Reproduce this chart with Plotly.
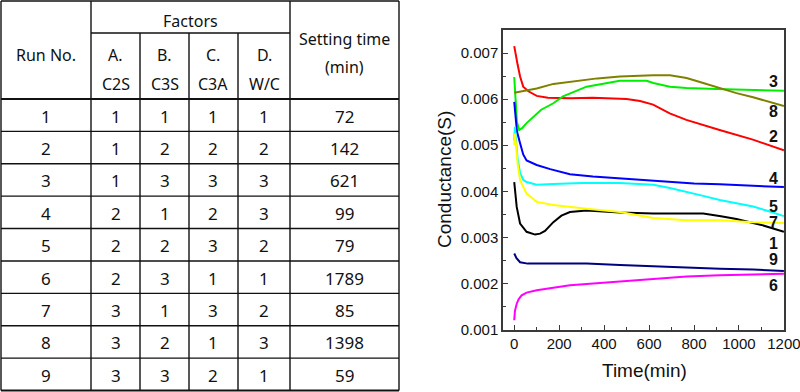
import plotly.graph_objects as go

W, H = 800, 392

# ---------------- table data ----------------
run_no = [1, 2, 3, 4, 5, 6, 7, 8, 9]
factor_A = [1, 1, 1, 2, 2, 2, 3, 3, 3]
factor_B = [1, 2, 3, 1, 2, 3, 1, 2, 3]
factor_C = [1, 2, 3, 2, 3, 1, 3, 1, 2]
factor_D = [1, 2, 3, 3, 2, 1, 2, 3, 1]
setting_time = [72, 142, 621, 99, 79, 1789, 85, 1398, 59]
factor_heads = [("A.", "C2S"), ("B.", "C3S"), ("C.", "C3A"), ("D.", "W/C")]

# ---------------- curve data (Time min, Conductance S) ----------------
t1 = [0, 5, 11, 26, 55, 93, 115, 137, 174, 210, 248, 322, 470, 619, 841, 920, 989, 1100, 1200]
c1 = [0.0042, 0.0039, 0.00366, 0.0033, 0.00312, 0.00306, 0.00308, 0.00314, 0.00333, 0.00347,
      0.00355, 0.00358, 0.00354, 0.00352, 0.00352, 0.00346, 0.0034, 0.00327, 0.00312]
t2 = [0, 5, 15, 26, 40, 63, 100, 150, 250, 350, 450, 500, 560, 618, 692, 766, 914, 1062, 1200]
c2 = [0.00715, 0.00700, 0.00675, 0.00649, 0.00627, 0.00617, 0.00607, 0.00603, 0.00602, 0.00603,
      0.00602, 0.00600, 0.00596, 0.00588, 0.00569, 0.00555, 0.00533, 0.00512, 0.00489]
t3 = [0, 5, 12, 22, 35, 55, 85, 120, 174, 217, 322, 396, 470, 589, 619, 693, 767, 900, 1050, 1200]
c3 = [0.00648, 0.0060, 0.0055, 0.00533, 0.00537, 0.00548, 0.00562, 0.00577, 0.00591, 0.00606,
      0.00627, 0.00634, 0.0064, 0.0064, 0.00635, 0.00627, 0.00624, 0.00622, 0.0062, 0.00618]
t4 = [0, 5, 12, 26, 40, 55, 100, 160, 248, 350, 470, 580, 693, 800, 915, 1050, 1200]
c4 = [0.00594, 0.0056, 0.0053, 0.00504, 0.0048, 0.00467, 0.00457, 0.00448, 0.00437, 0.00432,
      0.00428, 0.00424, 0.00419, 0.00417, 0.00415, 0.00412, 0.00409]
t5 = [0, 3, 8, 15, 26, 40, 55, 100, 174, 300, 470, 619, 693, 767, 841, 915, 989, 1063, 1137, 1200]
c5 = [0.0051, 0.0054, 0.0051, 0.0047, 0.0044, 0.00425, 0.0042, 0.00414, 0.00416, 0.00418,
      0.00418, 0.00414, 0.00407, 0.00399, 0.0039, 0.00381, 0.00374, 0.00367, 0.00356, 0.00346]
t6 = [0, 3, 11, 20, 33, 55, 100, 174, 248, 322, 470, 619, 767, 915, 1063, 1200]
c6 = [0.0012, 0.0014, 0.00156, 0.00166, 0.00174, 0.0018, 0.00185, 0.00191, 0.00196, 0.00199,
      0.00204, 0.0021, 0.00215, 0.00218, 0.00219, 0.00221]
t7 = [0, 3, 8, 15, 26, 55, 100, 174, 322, 470, 619, 767, 915, 1063, 1200]
c7 = [0.0050, 0.00525, 0.0050, 0.0046, 0.00424, 0.00395, 0.00377, 0.0037, 0.00362, 0.00355,
      0.00342, 0.00337, 0.00337, 0.00333, 0.00331]
t8 = [0, 50, 100, 174, 277, 370, 470, 560, 619, 693, 767, 841, 915, 989, 1063, 1200]
c8 = [0.00614, 0.00618, 0.00623, 0.00633, 0.0064, 0.00645, 0.00649, 0.00651, 0.00652, 0.00652,
      0.00646, 0.00635, 0.00624, 0.00613, 0.00604, 0.00585]
t9 = [0, 10, 26, 60, 100, 322, 470, 619, 767, 915, 1063, 1200]
c9 = [0.00265, 0.00255, 0.00246, 0.00243, 0.00243, 0.00243, 0.0024, 0.00237, 0.00235, 0.00232,
      0.0023, 0.00227]

series_names = ["1", "2", "3", "4", "5", "6", "7", "8", "9"]
series_t = [t1, t2, t3, t4, t5, t6, t7, t8, t9]
series_c = [c1, c2, c3, c4, c5, c6, c7, c8, c9]
series_colors = ["#000000", "#FF0000", "#00EE00", "#0000FF", "#00FFFF",
                 "#FF00FF", "#FFFF00", "#808000", "#000080"]

# curve labels at right end (label, time, conductance)
label_text = ["3", "8", "2", "4", "5", "7", "1", "9", "6"]
label_t = [1155, 1155, 1155, 1155, 1155, 1155, 1155, 1155, 1155]
label_c = [0.00638, 0.00573, 0.00519, 0.00428, 0.00368, 0.00333, 0.00287, 0.00251, 0.00196]


def px(x):
    return x / W


def py(y):
    return 1 - y / H


fig = go.Figure()
for name, t, c, col in zip(series_names, series_t, series_c, series_colors):
    fig.add_trace(go.Scatter(x=t, y=c, mode="lines", name=name,
                             line=dict(color=col, width=2), showlegend=False))

axis_common = dict(showline=True, linecolor="#3a3a3a", linewidth=1.5, mirror=True,
                   showgrid=False, zeroline=False, ticks="inside", ticklen=5,
                   tickcolor="#3a3a3a", tickwidth=1.3, ticklabeloverflow="allow",
                   tickfont=dict(family="Arial, Liberation Sans", size=15, color="#111"))

fig.update_layout(
    width=W, height=H, margin=dict(l=0, r=0, t=0, b=0),
    paper_bgcolor="white", plot_bgcolor="white",
    xaxis=dict(domain=[px(503), px(784)], range=[-50, 1200.5], tickmode="linear", tick0=0,
               dtick=200, minor=dict(ticks="inside", ticklen=3, dtick=100, tickcolor="#3a3a3a"),
               automargin=False, **axis_common),
    yaxis=dict(domain=[py(329.5), py(30)], range=[0.001, 0.0075], tickmode="linear",
               tick0=0.001, dtick=0.001, tickformat=".3f",
               minor=dict(ticks="inside", ticklen=3, dtick=0.0005, tickcolor="#3a3a3a"),
               automargin=False, **axis_common),
)

annotations = []
# axis titles
annotations.append(dict(text="Time(min)", x=px(644), y=py(370), xref="paper", yref="paper",
                        xanchor="center", yanchor="middle",
                        showarrow=False, font=dict(family="Arial, Liberation Sans", size=19, color="#111")))
annotations.append(dict(text="Conductance(S)", x=px(445), y=py(180), xref="paper", yref="paper",
                        xanchor="center", yanchor="middle",
                        textangle=-90, showarrow=False,
                        font=dict(family="Arial, Liberation Sans", size=19, color="#111")))
# curve labels
for lt, tx, cy in zip(label_text, label_t, label_c):
    annotations.append(dict(text="<b>" + lt + "</b>", x=tx, y=cy, xref="x", yref="y",
                            xanchor="center", yanchor="middle",
                            showarrow=False, font=dict(family="Arial, Liberation Sans", size=16, color="#111")))

# ---------------- table ----------------
col_x = [1, 91, 140, 189, 238, 290, 399]
head_top, head_mid, head_bot, tab_bot = 1, 33, 99, 390.5
row_h = (tab_bot - head_bot) / len(run_no)
shapes = []


def hline(x0, x1, y, width=1.4):
    shapes.append(dict(type="line", xref="paper", yref="paper", x0=px(x0), x1=px(x1),
                       y0=py(y), y1=py(y), line=dict(color="#111", width=width)))


def vline(x, y0, y1, width=1.4):
    shapes.append(dict(type="line", xref="paper", yref="paper", x0=px(x), x1=px(x),
                       y0=py(y0), y1=py(y1), line=dict(color="#111", width=width)))


hline(col_x[0], col_x[-1], head_top)
hline(col_x[1], col_x[5], head_mid)
hline(col_x[0], col_x[-1], head_bot, 1.8)
for i in range(1, len(run_no)):
    hline(col_x[0], col_x[-1], head_bot + i * row_h)
hline(col_x[0], col_x[-1], tab_bot, 2.2)
for i, x in enumerate(col_x):
    if i in (2, 3, 4):
        vline(x, head_mid, tab_bot)
    else:
        vline(x, head_top, tab_bot)

hfont = dict(family="Noto Sans, Open Sans", size=16, color="#111")
dfont = dict(family="Noto Sans, Open Sans", size=17, color="#111")


def cell_text(text, xc, yc, font):
    annotations.append(dict(text=text, x=px(xc), y=py(yc), xref="paper", yref="paper",
                            xanchor="center", yanchor="middle",
                            showarrow=False, font=font))


cell_text("Run No.", (col_x[0] + col_x[1]) / 2, 55, hfont)
cell_text("Factors", (col_x[1] + col_x[5]) / 2, 21, hfont)
cell_text("Setting time", (col_x[5] + col_x[6]) / 2, 39, hfont)
cell_text("(min)", (col_x[5] + col_x[6]) / 2, 67, hfont)
for j, (a, b) in enumerate(factor_heads):
    xc = (col_x[1 + j] + col_x[2 + j]) / 2
    cell_text(a, xc, 55, hfont)
    cell_text(b, xc, 84, hfont)

for i in range(len(run_no)):
    yc = head_bot + (i + 0.5) * row_h + 1
    vals = [run_no[i], factor_A[i], factor_B[i], factor_C[i], factor_D[i], setting_time[i]]
    for k, v in enumerate(vals):
        cell_text(str(v), (col_x[k] + col_x[k + 1]) / 2, yc, dfont)

fig.update_layout(shapes=shapes, annotations=annotations)
fig.write_html("out.html", config={"displayModeBar": False},
               post_script="document.body.style.margin='0';document.body.style.padding='0';"
                           "document.body.style.overflow='hidden';")
